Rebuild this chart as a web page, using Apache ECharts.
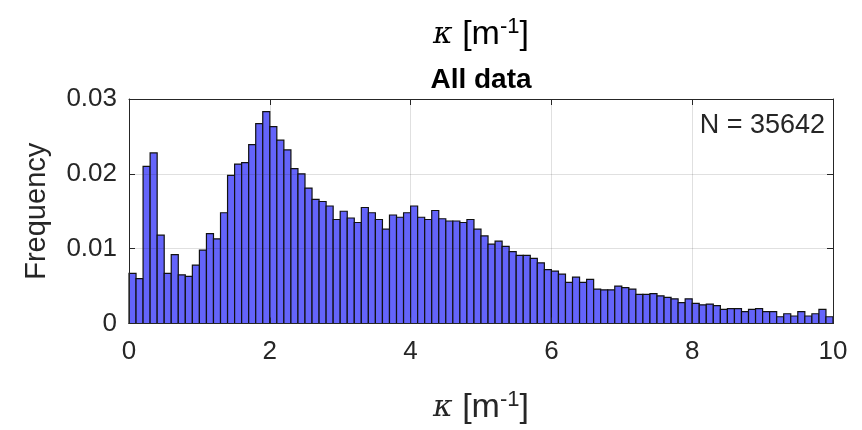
<!DOCTYPE html>
<html>
<head>
<meta charset="utf-8">
<script src="https://cdn.jsdelivr.net/npm/echarts@6/dist/echarts.min.js"></script>
<style>html,body{margin:0;padding:0;background:#fff}#c{width:862px;height:430px}</style>
</head>
<body>
<div id="c"></div>
<script>
// Histogram of curvature kappa, 100 bins of width 0.1 from 0 to 10
const binWidth = 0.1;
const binCount = 100;
const frequency = [
  0.0067, 0.0060, 0.0210, 0.0228, 0.0118, 0.0067, 0.0092, 0.0065, 0.0063, 0.0078,
  0.0098, 0.0120, 0.0113, 0.0148, 0.0198, 0.0213, 0.0215, 0.0239, 0.0267, 0.0283,
  0.0263, 0.0245, 0.0232, 0.0207, 0.0200, 0.0181, 0.0166, 0.0163, 0.0157, 0.0139,
  0.0150, 0.0141, 0.0135, 0.0155, 0.0148, 0.0139, 0.0126, 0.0145, 0.0142, 0.0148,
  0.0157, 0.0142, 0.0139, 0.0151, 0.0140, 0.0137, 0.0137, 0.0135, 0.0139, 0.0126,
  0.0117, 0.0106, 0.0110, 0.0103, 0.0096, 0.0091, 0.0091, 0.0087, 0.0081, 0.0072,
  0.0070, 0.0066, 0.0055, 0.0062, 0.0055, 0.0059, 0.0046, 0.0045, 0.0045, 0.0050,
  0.0048, 0.0046, 0.0039, 0.0039, 0.0040, 0.0037, 0.0035, 0.0033, 0.0028, 0.0033,
  0.0027, 0.0025, 0.0026, 0.0024, 0.0019, 0.0020, 0.0020, 0.0016, 0.0019, 0.0020,
  0.0016, 0.0016, 0.0009, 0.0013, 0.0010, 0.0016, 0.0010, 0.0013, 0.0019, 0.0009
];
const xTicks = [0, 2, 4, 6, 8, 10];
const yTicks = [0, 0.01, 0.02, 0.03];
const titleText = 'All data';
const nText = 'N = 35642';
const yName = 'Frequency';

const binLeft = Array.from({length: binCount}, (_, i) => +(i * binWidth).toFixed(1));
const seriesData = frequency.map((v, i) => [binLeft[i], +(binLeft[i] + binWidth).toFixed(1), v]);

const TXT = '#262626';
const kappaRich = {
  k: {fontFamily: 'DejaVu Serif', fontStyle: 'italic', fontSize: 30, color: TXT},
  t: {fontFamily: 'Liberation Sans', fontSize: 34, color: TXT},
  sup: {fontFamily: 'Liberation Sans', fontSize: 22, color: TXT, padding: [0, 0, 17, 0]}
};
const kappaLabel = '{k|κ}{t| [m}{sup|-1}{t|]}';

const chart = echarts.init(document.getElementById('c'), null, {renderer: 'canvas'});
const axisLineStyle = {color: TXT, width: 1};
chart.setOption({
  animation: false,
  backgroundColor: '#ffffff',
  grid: {left: 129, right: 29, top: 99, bottom: 101, containLabel: false},
  xAxis: [{
    type: 'value', min: xTicks[0], max: xTicks[xTicks.length - 1], interval: 2,
    position: 'bottom', z: 3,
    name: kappaLabel, nameLocation: 'middle', nameGap: 65,
    nameTextStyle: {rich: kappaRich},
    axisLine: {show: true, onZero: false, lineStyle: axisLineStyle},
    axisTick: {show: true, inside: true, length: 6, lineStyle: axisLineStyle},
    axisLabel: {fontFamily: 'Liberation Sans', fontSize: 26, color: TXT, margin: 15},
    splitLine: {show: true, lineStyle: {color: 'rgba(38,38,38,0.14)', width: 1}}
  }, {
    type: 'value', min: xTicks[0], max: xTicks[xTicks.length - 1], interval: 2,
    position: 'top', z: 3,
    axisLine: {show: true, onZero: false, lineStyle: axisLineStyle},
    axisTick: {show: true, inside: true, length: 6, lineStyle: axisLineStyle},
    axisLabel: {show: false}, splitLine: {show: false}
  }],
  yAxis: [{
    type: 'value', min: yTicks[0], max: yTicks[yTicks.length - 1], interval: 0.01,
    position: 'left', z: 3,
    name: yName, nameLocation: 'middle', nameGap: 78, nameRotate: 90,
    nameTextStyle: {fontFamily: 'Liberation Sans', fontSize: 29, color: TXT},
    axisLine: {show: true, onZero: false, lineStyle: axisLineStyle},
    axisTick: {show: true, inside: true, length: 6, lineStyle: axisLineStyle},
    axisLabel: {fontFamily: 'Liberation Sans', fontSize: 26, color: TXT, margin: 12},
    splitLine: {show: true, lineStyle: {color: 'rgba(38,38,38,0.14)', width: 1}}
  }, {
    type: 'value', min: yTicks[0], max: yTicks[yTicks.length - 1], interval: 0.01,
    position: 'right', z: 3,
    axisLine: {show: true, onZero: false, lineStyle: axisLineStyle},
    axisTick: {show: true, inside: true, length: 6, lineStyle: axisLineStyle},
    axisLabel: {show: false}, splitLine: {show: false}
  }],
  graphic: [
    {type: 'text', x: 481, y: 35, style: {text: kappaLabel, rich: kappaRich, textAlign: 'center', textVerticalAlign: 'middle'}},
    {type: 'text', x: 481, y: 80, style: {text: titleText, fontFamily: 'Liberation Sans', fontWeight: 'bold', fontSize: 28, fill: '#000', textAlign: 'center', textVerticalAlign: 'middle'}},
    {type: 'text', x: 825, y: 126, style: {text: nText, fontFamily: 'Liberation Sans', fontSize: 27, fill: TXT, textAlign: 'right', textVerticalAlign: 'middle'}}
  ],
  series: [{
    type: 'custom',
    xAxisIndex: 0, yAxisIndex: 0,
    encode: {x: [0, 1], y: 2},
    data: seriesData,
    renderItem: function (params, api) {
      const p0 = api.coord([api.value(0), 0]);
      const p1 = api.coord([api.value(1), api.value(2)]);
      return {
        type: 'rect',
        shape: {x: p0[0], y: p1[1], width: p1[0] - p0[0], height: p0[1] - p1[1]},
        style: {fill: '#6464fa', stroke: '#111111', lineWidth: 1.2}
      };
    }
  }]
});
</script>
</body>
</html>
